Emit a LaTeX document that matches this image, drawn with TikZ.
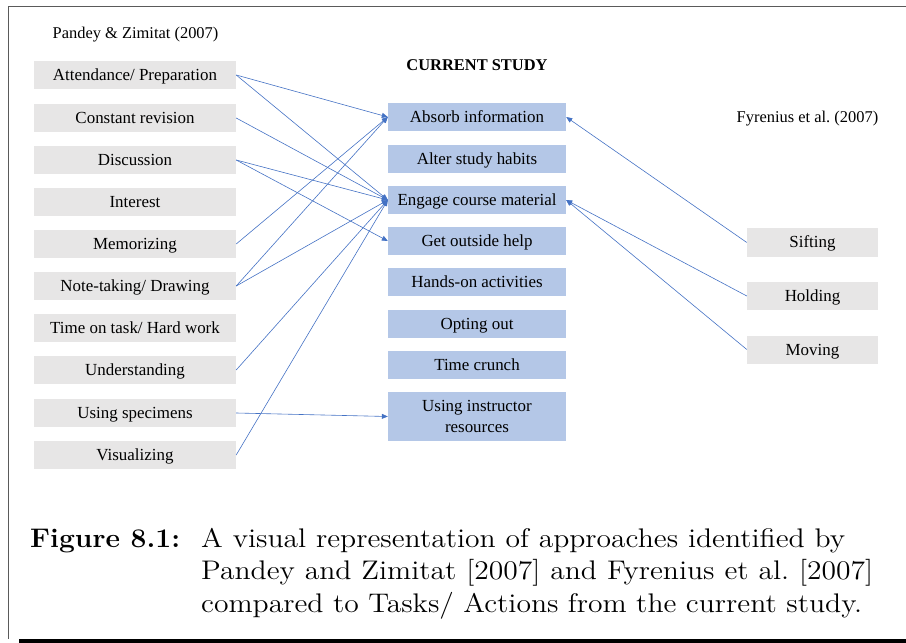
\documentclass[tikz,border=0pt]{standalone}
\usepackage{fontspec}
\setmainfont{Liberation Serif}
\newfontfamily\capfont{lmroman12-regular}[Extension=.otf,
  BoldFont=lmroman12-bold,
  UprightFeatures={FakeStretch=1.1},
  BoldFeatures={FakeStretch=1.05}]
\usetikzlibrary{arrows.meta}
\definecolor{srcgray}{HTML}{E7E6E6}
\definecolor{taskblue}{HTML}{B4C7E7}
\definecolor{linkblue}{HTML}{4472C4}
\definecolor{framegray}{HTML}{5A5A5A}
\begin{document}
\frenchspacing
\begin{tikzpicture}[x=1bp,y=-1bp,
  boxtext/.style={font=\fontsize{17}{21}\selectfont, inner sep=0pt, align=center},
  oneline/.style={text height=13.5bp, text depth=2.5bp},
  srcbox/.style={boxtext, oneline, fill=srcgray, minimum width=202bp, minimum height=28bp},
  taskfill/.style={boxtext, fill=taskblue, minimum width=178bp, minimum height=28bp},
  taskbox/.style={taskfill, oneline},
  appbox/.style={boxtext, oneline, fill=srcgray, minimum width=131bp, minimum height=28bp},
  heading/.style={font=\fontsize{16.5}{19}\selectfont, inner sep=0pt},
  link/.style={draw=linkblue, line width=0.6bp, -{Triangle[length=6bp,width=5bp]}},
  captext/.style={font=\capfont\fontsize{27}{32.5}\selectfont, inner sep=0pt, anchor=base west}]
\useasboundingbox (0,0) rectangle (906,643);

% page frame
\draw[framegray, line width=1.4bp] (8.5,638.5) |- (906,6.5);
\fill[black] (19,639) rectangle (906,643);

% headings
\node[heading] (pz) at (135.5,35) {Pandey \& Zimitat (2007)};
\node[heading, font=\fontsize{16.5}{19}\selectfont\bfseries] (cs) at (477,65) {CURRENT STUDY};
\node[heading] (fy) at (807.5,118.5) {Fyrenius et al. (2007)};

% approaches (left column)
\node[srcbox] (attend)  at (135,75)  {Attendance/ Preparation};
\node[srcbox] (revise)  at (135,118) {Constant revision};
\node[srcbox] (discuss) at (135,160) {Discussion};
\node[srcbox] (interest) at (135,202) {Interest};
\node[srcbox] (memo)    at (135,244) {Memorizing};
\node[srcbox] (notes)   at (135,286) {Note-taking/ Drawing};
\node[srcbox] (time)    at (135,328) {Time on task/ Hard work};
\node[srcbox] (under)   at (135,370) {Understanding};
\node[srcbox] (spec)    at (135,413) {Using specimens};
\node[srcbox] (visual)  at (135,455) {Visualizing};

% tasks / actions (middle column)
\node[taskbox] (absorb) at (477,117) {Absorb information};
\node[taskbox] (alter)  at (477,159) {Alter study habits};
\node[taskbox] (engage) at (477,200) {Engage course material};
\node[taskbox] (help)   at (477,241) {Get outside help};
\node[taskbox] (hands)  at (477,282) {Hands-on activities};
\node[taskbox] (opting) at (477,324) {Opting out};
\node[taskbox] (crunch) at (477,365) {Time crunch};
\node[taskfill, minimum height=49bp] (instr) at (477,416.5) {Using instructor\\resources};

% approaches (right column)
\node[appbox] (sift) at (812.5,242.5) {Sifting};
\node[appbox] (hold) at (812.5,296)   {Holding};
\node[appbox] (move) at (812.5,349.5) {Moving};

% connections
\draw[link] (attend.east)  -- (absorb.west);
\draw[link] (attend.east)  -- (engage.west);
\draw[link] (revise.east)  -- (engage.west);
\draw[link] (discuss.east) -- (engage.west);
\draw[link] (discuss.east) -- (help.west);
\draw[link] (memo.east)    -- (absorb.west);
\draw[link] (notes.east)   -- (absorb.west);
\draw[link] (notes.east)   -- (engage.west);
\draw[link] (under.east)   -- (engage.west);
\draw[link] (spec.east)    -- (instr.west);
\draw[link] (visual.east)  -- (engage.west);
\draw[link] (sift.west)    -- (absorb.east);
\draw[link] (hold.west)    -- (engage.east);
\draw[link] (move.west)    -- (engage.east);

% caption, each line set to its own width
\node[captext, font=\capfont\fontsize{27}{32.5}\selectfont\bfseries] (figlabel) at (30,547) {Figure 8.1:};
\node[captext] (cap1) at (201,547)   {\hbox to 644bp{A visual representation of approaches identified by}};
\node[captext] (cap2) at (201,579.5) {\hbox to 672bp{Pandey and Zimitat [2007] and Fyrenius et al. [2007]}};
\node[captext] (cap3) at (201,612)   {\hbox to 661bp{compared to Tasks/ Actions from the current study.}};
\end{tikzpicture}
\end{document}
